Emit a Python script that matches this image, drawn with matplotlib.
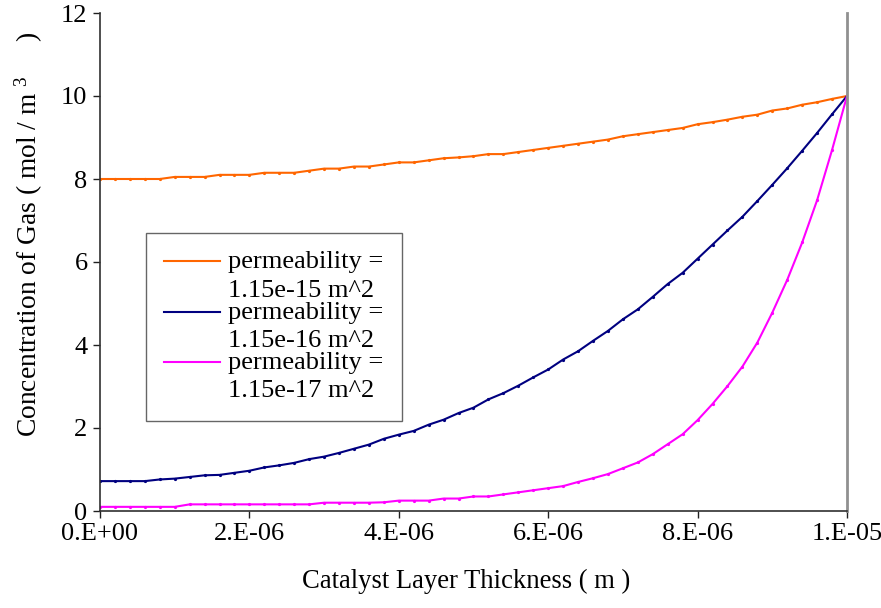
import numpy as np
import matplotlib
matplotlib.use("Agg")
import matplotlib.pyplot as plt
from matplotlib.legend_handler import HandlerLine2D

# x positions (m)
thickness = np.round(np.arange(0, 51) * 0.2e-6, 12)

conc_k15 = [8.00, 8.00, 8.00, 8.00, 8.00, 8.05, 8.05, 8.05, 8.10, 8.10,
            8.10, 8.15, 8.15, 8.15, 8.20, 8.25, 8.25, 8.30, 8.30, 8.35,
            8.40, 8.40, 8.45, 8.50, 8.52, 8.55, 8.60, 8.60, 8.65, 8.70,
            8.75, 8.80, 8.85, 8.90, 8.95, 9.03, 9.08, 9.13, 9.18, 9.23,
            9.32, 9.37, 9.43, 9.50, 9.55, 9.65, 9.70, 9.79, 9.85, 9.93,
            10.00]

conc_k16 = [0.72, 0.72, 0.72, 0.72, 0.76, 0.78, 0.82, 0.86, 0.87, 0.92,
            0.97, 1.05, 1.10, 1.16, 1.25, 1.31, 1.40, 1.50, 1.60, 1.74,
            1.84, 1.93, 2.08, 2.20, 2.36, 2.49, 2.69, 2.84, 3.02, 3.22,
            3.41, 3.65, 3.85, 4.10, 4.34, 4.62, 4.86, 5.16, 5.47, 5.74,
            6.08, 6.42, 6.76, 7.09, 7.47, 7.86, 8.26, 8.68, 9.11, 9.56,
            10.00]

conc_k17 = [0.10, 0.10, 0.10, 0.10, 0.10, 0.10, 0.16, 0.16, 0.16, 0.16,
            0.16, 0.16, 0.16, 0.16, 0.16, 0.20, 0.20, 0.20, 0.20, 0.21,
            0.25, 0.25, 0.25, 0.30, 0.30, 0.35, 0.35, 0.40, 0.45, 0.50,
            0.55, 0.60, 0.70, 0.79, 0.89, 1.03, 1.17, 1.37, 1.61, 1.85,
            2.19, 2.58, 3.01, 3.48, 4.06, 4.78, 5.57, 6.47, 7.49, 8.70,
            10.00]

labels = ["permeability =\n1.15e-15 m^2",
          "permeability =\n1.15e-16 m^2",
          "permeability =\n1.15e-17 m^2"]
colors = ["#FF6600", "#000080", "#FF00FF"]

xticks = [0, 2e-6, 4e-6, 6e-6, 8e-6, 1e-5]
xticklabels = ["0.E+00", "2.E-06", "4.E-06", "6.E-06", "8.E-06", "1.E-05"]
yticks = [0, 2, 4, 6, 8, 10, 12]

plt.rcParams['font.family'] = ['Liberation Serif', 'DejaVu Serif']
plt.rcParams['mathtext.fontset'] = 'custom'
plt.rcParams['mathtext.rm'] = 'Liberation Serif'
plt.rcParams['mathtext.it'] = 'Liberation Serif:italic'

fig = plt.figure(figsize=(8.81, 6.08), dpi=100)
ax = fig.add_axes([100/881, 97/608, 747/881, 498/608])

for y, c, lab in zip([conc_k15, conc_k16, conc_k17], colors, labels):
    ax.plot(thickness, y, color=c, lw=1.5, marker='o', markersize=1.3, label=lab)

ax.set_xlim(0, 1e-5)
ax.set_ylim(0, 12)
ax.set_xticks(xticks)
ax.set_xticklabels(xticklabels)
ax.set_yticks(yticks)
ax.tick_params(labelsize=19, direction='out', length=5, width=1, colors='#202020', pad=4)
for lbl in ax.get_xticklabels() + ax.get_yticklabels():
    lbl.set_color('black')

ax.spines['top'].set_visible(False)
ax.spines['right'].set_color('#909090')
ax.spines['right'].set_linewidth(2)
ax.spines['left'].set_color('#303030')
ax.spines['bottom'].set_color('#303030')
ax.spines['left'].set_linewidth(1.2)
ax.spines['bottom'].set_linewidth(1.2)

ax.set_xlabel("Catalyst Layer Thickness ( m )", fontsize=19.2)
ax.set_ylabel(r"Concentration of Gas ( mol / m $^{3}$     )", fontsize=19.8)
ax.xaxis.set_label_coords((466 - 100) / 747, (511 - 569) / 498)
ax.yaxis.set_label_coords((45 - 100) / 747, (511 - 234) / 498)


class TopHandler(HandlerLine2D):
    def create_artists(self, legend, orig_handle, xdescent, ydescent,
                       width, height, fontsize, trans):
        arts = super().create_artists(legend, orig_handle, xdescent, ydescent,
                                      width, height, fontsize, trans)
        for a in arts:
            yd = np.asarray(a.get_ydata(), dtype=float)
            a.set_ydata(yd + 0.55 * fontsize)
            a.set_marker('None')
        return arts


leg = ax.legend(loc='upper left', bbox_to_anchor=((146-100)/747, (511-233)/498),
                borderaxespad=0, fontsize=19, frameon=True, fancybox=False,
                edgecolor='#404040', handlelength=2.1, handletextpad=0.3,
                labelspacing=0.0, borderpad=0.7,
                handler_map={plt.Line2D: TopHandler()})
leg.get_frame().set_linewidth(1.0)
for t in leg.get_texts():
    t.set_linespacing(1.37)

fig.savefig("out.png", dpi=100)
